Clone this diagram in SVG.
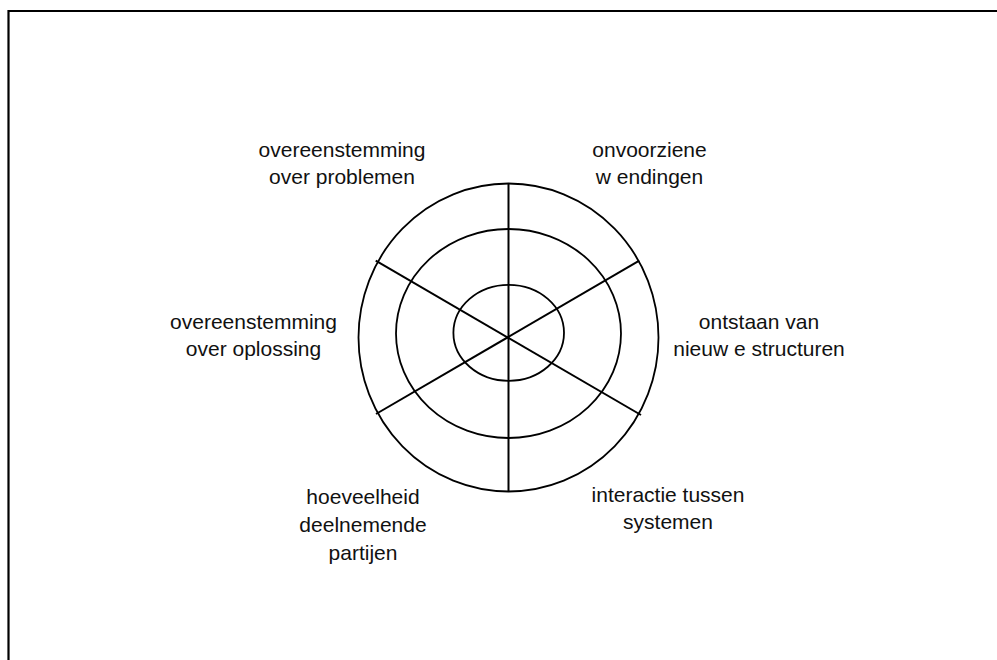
<svg xmlns="http://www.w3.org/2000/svg" width="997" height="660" viewBox="0 0 997 660">
<style>
.frame{fill:none;stroke:#000;stroke-width:2.2}
.ring{fill:none;stroke:#000;stroke-width:1.8}
.spoke{stroke:#000;stroke-width:2;fill:none}
.lbl{font-family:"Liberation Sans",Arial,sans-serif;font-size:21px;fill:#111;text-anchor:middle}
</style>
<rect width="997" height="660" fill="#fff"/>
<path class="frame" d="M8.5,660 L8.5,11 L997,11"/>
<g id="wheel">
<ellipse class="ring" cx="508.5" cy="337.5" rx="150" ry="154"/>
<ellipse class="ring" cx="508.5" cy="333.5" rx="112.5" ry="104.5"/>
<ellipse class="ring" cx="508.7" cy="332.8" rx="55.3" ry="48"/>
</g>
<g id="connectors">
<line class="spoke" x1="508.5" y1="183.5" x2="508.5" y2="491.5"/>
<line class="spoke" x1="375.7" y1="260.7" x2="641" y2="415"/>
<line class="spoke" x1="639.3" y1="260.7" x2="376" y2="414"/>
</g>
<g id="n-problemen"><text class="lbl" x="342" y="157">overeenstemming</text><text class="lbl" x="342" y="184">over problemen</text></g>
<g id="n-wendingen"><text class="lbl" x="649.5" y="157">onvoorziene</text><text class="lbl" x="649.5" y="184">w endingen</text></g>
<g id="n-structuren"><text class="lbl" x="759" y="329">ontstaan van</text><text class="lbl" x="759" y="356">nieuw e structuren</text></g>
<g id="n-oplossing"><text class="lbl" x="253.5" y="329">overeenstemming</text><text class="lbl" x="253.5" y="356">over oplossing</text></g>
<g id="n-partijen"><text class="lbl" x="363" y="504">hoeveelheid</text><text class="lbl" x="363" y="532">deelnemende</text><text class="lbl" x="363" y="560">partijen</text></g>
<g id="n-systemen"><text class="lbl" x="668" y="502">interactie tussen</text><text class="lbl" x="668" y="529">systemen</text></g>
</svg>
